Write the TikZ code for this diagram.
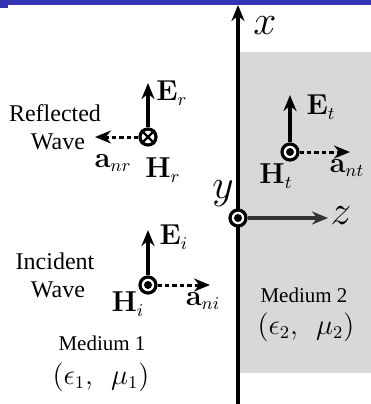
\documentclass[tikz,border=0pt]{standalone}
\usepackage[no-math]{fontspec}
\setmainfont{Liberation Serif}
\usetikzlibrary{arrows.meta}
\definecolor{barblue}{RGB}{51,51,179}
\definecolor{medgray}{RGB}{216,217,215}
\definecolor{zgray}{RGB}{51,51,51}
\begin{document}
\begin{tikzpicture}[x=0.5pt,y=-0.5pt,
  vec/.style={line width=1.6pt,-{Stealth[length=8pt,width=6.5pt]}},
  dvec/.style={line width=1.5pt,dash pattern=on 2.2pt off 1.5pt,-{Stealth[length=8pt,width=6.5pt]}},
  fld/.style={circle,draw,line width=1.6pt,fill=white,minimum size=8pt,inner sep=0pt},
  lbl/.style={inner sep=0pt,font=\fontsize{13.5}{15}\selectfont},
  axl/.style={inner sep=0pt,font=\fontsize{22}{24}\selectfont},
  txt/.style={inner sep=0pt,align=center,font=\fontsize{12}{15}\selectfont},
  mtxt/.style={inner sep=0pt,align=center,font=\fontsize{10.5}{13}\selectfont}]
\useasboundingbox (0,0) rectangle (371,404);
% top bar
\fill[barblue] (0,0) rectangle (371,5);
\fill[barblue] (0,0) rectangle (8,8);
% medium 2
\fill[medgray] (238,52) rectangle (371,373);
% axes
\coordinate (xbot) at (238,404);
\coordinate (xtop) at (238,5);
\draw[vec] (xbot) -- (xtop);
\node[axl] (xl) at (265,26) {$x$};
\node[fld] (o) at (238,218) {};
\fill (o) circle (2pt);
\coordinate (ztip) at (328,218);
\draw[vec,zgray] (o) -- (ztip);
\node[axl] (zl) at (341,216) {$z$};
\node[axl] (yl) at (223,194) {$y$};
% reflected
\node[fld] (r) at (148,137) {};
\draw[line width=1.2pt] (r.north east) -- (r.south west) (r.north west) -- (r.south east);
\coordinate (ertip) at (148,83);
\coordinate (anrtip) at (95,137);
\draw[vec] (r) -- (ertip);
\draw[dvec] (r) -- (anrtip);
\node[lbl] (er) at (172,93) {$\mathbf{E}_r$};
\node[lbl] (hr) at (163,170) {$\mathbf{H}_r$};
\node[lbl] (anr) at (113,163) {$\mathbf{a}_{nr}$};
\node[txt] (refl) at (55,113) {Reflected};
\node[txt] (rwave) at (58,142) {Wave};
% transmitted
\node[fld] (t) at (290,152) {};
\fill (t) circle (2pt);
\coordinate (ettip) at (290,95);
\coordinate (anttip) at (350,152);
\draw[vec] (t) -- (ettip);
\draw[dvec] (t) -- (anttip);
\node[lbl] (et) at (321,107) {$\mathbf{E}_t$};
\node[lbl] (ht) at (276,176) {$\mathbf{H}_t$};
\node[lbl] (ant) at (347,168) {$\mathbf{a}_{nt}$};
% incident
\node[fld] (i) at (148,285) {};
\fill (i) circle (2pt);
\coordinate (eitip) at (148,230);
\coordinate (anitip) at (210,285);
\draw[vec] (i) -- (eitip);
\draw[dvec] (i) -- (anitip);
\node[lbl] (ei) at (174,237) {$\mathbf{E}_i$};
\node[lbl] (hi) at (128,304) {$\mathbf{H}_i$};
\node[lbl] (ani) at (203,301) {$\mathbf{a}_{ni}$};
\node[txt] (inc) at (55,261) {Incident};
\node[txt] (iwave) at (58,290) {Wave};
% media
\node[mtxt] (m1) at (102,343) {Medium 1};
\node[lbl] (p1) at (101,377) {$(\epsilon_1,\ \ \mu_1)$};
\node[mtxt] (m2) at (304,295) {Medium 2};
\node[lbl] (p2) at (306,327) {$(\epsilon_2,\ \ \mu_2)$};
\end{tikzpicture}
\end{document}
